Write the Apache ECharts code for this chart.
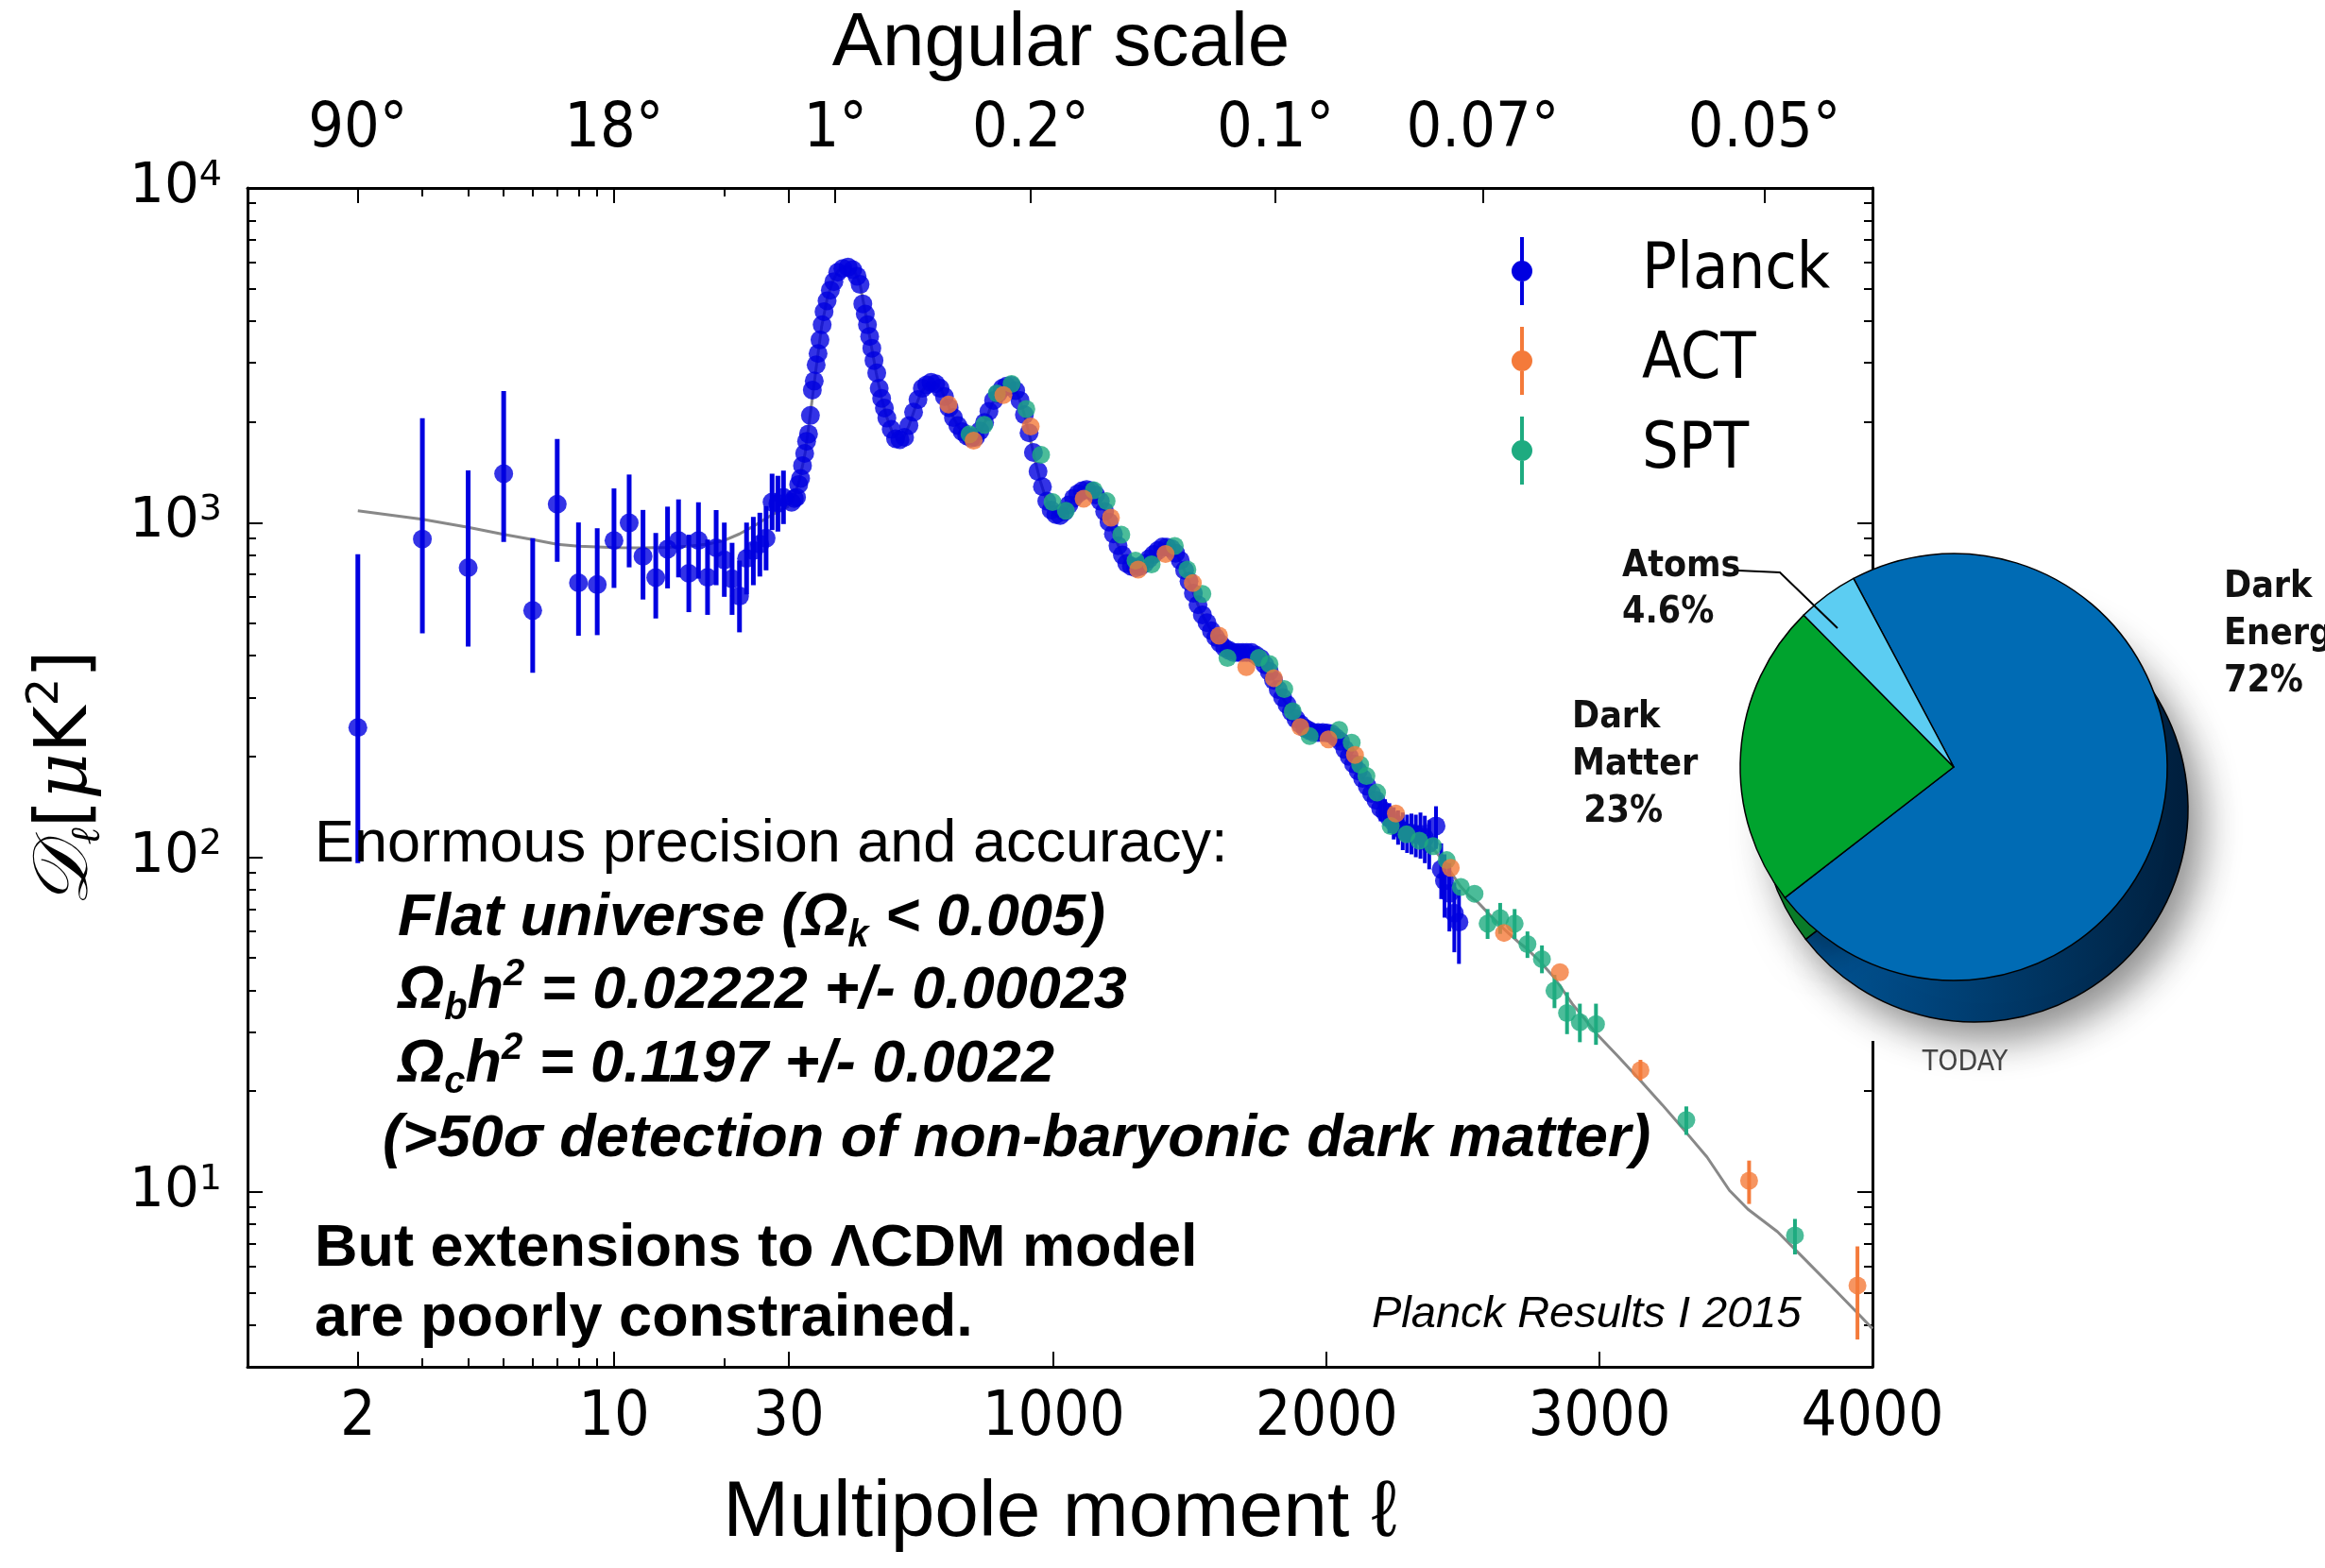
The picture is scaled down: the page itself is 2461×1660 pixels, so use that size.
<!DOCTYPE html>
<html><head><meta charset="utf-8">
<script src="https://cdn.jsdelivr.net/npm/echarts@6/dist/echarts.min.js"></script>
<style>html,body{margin:0;padding:0;background:#fff}#c{width:2461px;height:1660px}</style>
</head><body><div id="c"></div>
<script>
// ---------------- DATA ----------------
const planckLowEll = [2,3,4,5,6,7,8,9,10,11,12,13,14,15,16,17,18,19,20,21,22,23,24,25,26,27,28,29];
const planckLowD   = [244,893,733,1400,546,1135,661,653,884,998,793,685,833,884,705,884,686,841,773,679,603,781,825,861,898,1152,1141,1190];
const planckLowLo  = [96,467,426,875,356,764,459,461,638,735,589,517,636,686,540,680,530,650,600,530,470,610,650,690,720,950,940,990];
const planckLowHi  = [805,2052,1432,2473,898,1779,1001,962,1265,1392,1091,931,1116,1173,920,1150,890,1090,1000,870,770,1000,1040,1070,1120,1400,1380,1430];

const planckHighEll = [40,50,58,66,73,80,88,95,102,109,116,123,130,137,144,152,159,170,182,195,209,228,247,264,280,291,301,310,318,326,334,342,352,361,370,380,389,405,421,437,454,470,487,503,519,535,551,568,584,600,617,633,649,665,682,698,714,730,747,763,780,796,812,828,845,861,877,893,910,926,943,959,975,991,1008,1024,1040,1056,1073,1089,1105,1121,1138,1154,1171,1187,1203,1219,1236,1252,1268,1285,1301,1317,1334,1350,1366,1382,1399,1415,1431,1447,1464,1480,1496,1512,1529,1545,1562,1578,1594,1610,1627,1643,1660,1676,1692,1708,1725,1741,1758,1774,1790,1806,1823,1839,1855,1871,1888,1904,1921,1937,1953,1969,1986,2002,2018,2034,2051,2067,2083,2099,2116,2132,2149,2165,2181];
const planckHighD   = [1150,1180,1190,1300,1355,1480,1610,1750,1840,2090,2490,2650,2960,3200,3515,3900,4270,4600,4950,5250,5600,5750,5800,5700,5450,5150,4505,4200,3900,3600,3320,3050,2800,2520,2350,2200,2053,1900,1780,1770,1798,1950,2138,2330,2520,2580,2624,2600,2520,2380,2204,2060,1950,1870,1815,1790,1798,1880,1991,2150,2318,2430,2520,2560,2570,2480,2318,2100,1854,1620,1422,1280,1159,1090,1057,1050,1079,1130,1183,1220,1245,1255,1245,1210,1159,1080,1004,925,853,800,755,740,732,740,755,780,803,825,846,845,837,810,771,720,668,615,568,530,502,475,454,436,422,415,409,409,409,409,409,402,393,376,359,338,317,300,286,272,259,250,243,239,236,236,236,235,234,228,222,210,200,190,181,172,163,155,148];

const planckTailEll = [2198,2214,2230,2246,2262,2279,2295,2311,2327,2344,2360,2376,2401,2420,2432,2450,2468,2485];
const planckTailD   = [140,136,131,127,123,120,118,118,117,117,114,110,124,92,85,78,68,64];
const planckTailLo  = [128,124,118,113,109,105,103,102,100,99,96,92,106,75,66,60,52,48];
const planckTailHi  = [153,149,145,141,138,136,134,135,134,136,133,129,142,110,102,96,84,80];

const actEll = [615,707,816,916,1110,1210,1310,1410,1510,1606,1706,1807,1904,2007,2104,2254,2455,2650,2855,3150,3548,3945];
const actD   = [2255,1757,2405,1937,1178,1035,724,806,660,459,370,343,245,225,202,135,93,59.4,45.3,23.1,10.8,5.25];
const actBarEll = [3150,3548,3945];
const actBarLo  = [21.5,9.2,3.62];
const actBarHi  = [24.8,12.4,6.87];

const sptEll = [692,746,792,846,900,954,996,1045,1147,1194,1248,1300,1359,1444,1490,1545,1637,1752,1791,1845,1876,1938,2046,2092,2123,2146,2185,2235,2293,2340,2390,2440,2492,2542,2590,2636,2689,2736,2789,2835,2881,2928,2987,3318,3716];
const sptD   = [1836,1960,2432,2596,2184,1595,1152,1085,1250,1160,920,770,750,851,724,612,394,394,378,318,273,230,240,220,189,175,156,124,117,112,108,98,81.5,77.8,63.3,65.8,63.3,55,49.6,39.9,34.2,32.1,31.7,16.4,7.41];
const sptBarEll = [2590,2636,2689,2736,2789,2835,2881,2928,2987,3318,3716];
const sptBarLo  = [57,59,57,50,45,35.4,29.6,28,27.5,14.8,6.5];
const sptBarHi  = [70,73,70,60,54.5,44.5,39.5,36.5,36.5,18,8.3];

const theoryLowEll = [2,3,4,5,6,7,8,9,10,12,14,16,18,20,22,24,26,28,30];
const theoryLowD   = [1084,1023,968,922,890,861,850,846,842,840,843,850,862,884,925,975,1030,1080,1120];
const theoryHighEll = [30,50,70,90,110,130,150,170,190,210,230,250,270,290,310,330,350,370,390,410,430,450,470,490,510,530,550,570,590,610,630,650,670,690,710,730,750,770,790,810,830,850,870,890,910,930,950,970,990,1010,1030,1050,1070,1090,1110,1130,1150,1170,1190,1210,1230,1250,1270,1290,1310,1330,1350,1370,1390,1410,1430,1450,1470,1490,1510,1530,1550,1570,1590,1610,1630,1650,1670,1690,1710,1730,1750,1770,1790,1810,1830,1850,1870,1890,1910,1930,1950,1970,1990,2010,2030,2050,2070,2090,2110,2130,2150,2170,2190,2220,2250,2280,2310,2340,2370,2400,2430,2460,2490,2520,2557,2600,2650,2700,2730,2780,2835,2900,2950,2990,3070,3150,3230,3313,3394,3476,3544,3652,3746,3854,3960,4000];
const theoryHighD   = [1120,1200,1350,1620,2150,2900,3850,4650,5250,5650,5800,5800,5650,5200,4250,3450,2800,2350,2050,1850,1770,1790,1950,2170,2400,2560,2620,2600,2480,2280,2080,1940,1850,1800,1795,1870,2010,2220,2400,2510,2560,2560,2400,2140,1850,1560,1340,1190,1100,1055,1060,1110,1175,1225,1250,1250,1220,1160,1070,970,880,805,755,738,735,750,780,808,835,846,838,806,750,685,622,565,520,488,458,436,420,412,409,409,409,406,397,380,359,333,308,290,273,258,247,240,237,236,236,234,229,222,208,195,184,173,162,152,144,135,126,120,117,113,109,104,97,89,82,77,73,67,61,56,53.6,49,43.6,36.5,32.5,29.6,25.3,21.5,18.2,15.2,12.7,10.1,8.87,7.6,6.36,5.18,4.22,3.9];

const xTickLabelsLow = [2,10,30];
const xTickLabelsHigh = [1000,2000,3000,4000];
const angularEll = [2,10,200,916,1813,2572,3604];
const angularLabels = ['90°','18°','1°','0.2°','0.1°','0.07°','0.05°'];
const yTickValues = [10,100,1000,10000];
const yMinorValues = [4,5,6,7,8,9,20,30,40,50,60,70,80,90,200,300,400,500,600,700,800,900,2000,3000,4000,5000,6000,7000,8000,9000];

const pieNames  = ['Dark Energy','Dark Matter','Atoms'];
const pieValues = [72,23,4.6];

// ---------------- STYLE ----------------
const BLUE='#0000e0', ORANGE='#f47a3a', GREEN='#1eab80', GRAY='#888888';
const NARROW = "'DejaVu Sans Condensed','Liberation Sans Narrow',sans-serif";
const ARIAL = "'Liberation Sans',Arial,sans-serif";
const ICON = 'path://M10,0 L14,0 L14,26 L10,26 Z M10,46 L14,46 L14,72 L10,72 Z M1,36 A11,11 0 1,1 23,36 A11,11 0 1,1 1,36 Z';

const zip2 = (a,b)=>a.map((v,i)=>[v,b[i]]);
const zip3 = (a,b,c)=>a.map((v,i)=>[v,b[i],c[i]]);
function errBar(w){
  return function(params, api){
    const x = api.value(0);
    const a = api.coord([x, api.value(1)]);
    const b = api.coord([x, api.value(2)]);
    return {type:'line', shape:{x1:a[0],y1:a[1],x2:b[0],y2:b[1]}, style:{stroke:api.visual('color'), lineWidth:w}};
  };
}
function angFmt(v){
  for (let i=0;i<angularEll.length;i++){ if (Math.abs(angularEll[i]-v) < 0.01*angularEll[i]) return angularLabels[i]; }
  return '';
}
const lineSt = {show:true, onZero:false, lineStyle:{color:'#000', width:3}};
const tickSt = (vals,len)=>({show:true, inside:true, length:len, customValues:vals, lineStyle:{color:'#000', width:2}});
const noLine = {show:false, onZero:false};
const lblSt = (vals, margin, fmt)=>({show:true, customValues:vals, margin:margin, fontSize:66, lineHeight:70, fontFamily:NARROW, color:'#000', formatter:fmt});

const xAxes = [
  {type:'log', logBase:10, gridIndex:0, position:'bottom', min:1, max:30, axisLine:lineSt, axisTick:tickSt([2,10,30],16),
   axisLabel:lblSt(xTickLabelsLow, 20, v=>String(Math.round(v))), splitLine:{show:false}},
  {type:'log', logBase:10, gridIndex:0, position:'bottom', min:1, max:30, axisLine:noLine, axisTick:tickSt([3,4,5,6,7,8,9,20],9),
   axisLabel:{show:false}, splitLine:{show:false}},
  {type:'log', logBase:10, gridIndex:0, position:'top', min:1, max:30, axisLine:lineSt, axisTick:tickSt([2,10,30],16),
   axisLabel:lblSt([2,10], 26, angFmt), splitLine:{show:false}},
  {type:'log', logBase:10, gridIndex:0, position:'top', min:1, max:30, axisLine:noLine, axisTick:tickSt([3,4,5,6,7,8,9,20],9),
   axisLabel:{show:false}, splitLine:{show:false}},
  {type:'value', gridIndex:1, position:'bottom', min:30, max:4000, axisLine:lineSt, axisTick:tickSt([1000,2000,3000],16),
   axisLabel:lblSt(xTickLabelsHigh, 20, v=>String(Math.round(v))), splitLine:{show:false}},
  {type:'value', gridIndex:1, position:'top', min:30, max:4000, axisLine:lineSt, axisTick:tickSt(angularEll.slice(2),16),
   axisLabel:lblSt(angularEll.slice(2), 26, angFmt), splitLine:{show:false}}
];
const yRich = {b:{fontSize:58, fontFamily:'DejaVu Sans', lineHeight:64, color:'#000'}, s:{fontSize:38, fontFamily:'DejaVu Sans', lineHeight:44, verticalAlign:'top', color:'#000'}};
const yAxes = [
  {type:'log', logBase:10, gridIndex:0, position:'left', min:3, max:10000, axisLine:lineSt, axisTick:tickSt(yTickValues,16),
   axisLabel:{show:true, customValues:yTickValues, margin:27, rich:yRich, formatter:v=>'{b|10}{s|'+Math.round(Math.log10(v))+'}'}, splitLine:{show:false}},
  {type:'log', logBase:10, gridIndex:0, position:'left', min:3, max:10000, axisLine:noLine, axisTick:tickSt(yMinorValues,9), axisLabel:{show:false}, splitLine:{show:false}},
  {type:'log', logBase:10, gridIndex:1, position:'right', min:3, max:10000, axisLine:lineSt, axisTick:tickSt(yTickValues,16), axisLabel:{show:false}, splitLine:{show:false}},
  {type:'log', logBase:10, gridIndex:1, position:'right', min:3, max:10000, axisLine:noLine, axisTick:tickSt(yMinorValues,9), axisLabel:{show:false}, splitLine:{show:false}}
];

const series = [
  {name:'theory', type:'line', xAxisIndex:0, yAxisIndex:0, data:zip2(theoryLowEll,theoryLowD), symbol:'none', lineStyle:{color:GRAY,width:3}, z:1, silent:true},
  {name:'theory', type:'line', xAxisIndex:4, yAxisIndex:2, data:zip2(theoryHighEll,theoryHighD), symbol:'none', lineStyle:{color:GRAY,width:3}, z:1, silent:true},
  {name:'Planck', type:'custom', xAxisIndex:0, yAxisIndex:0, data:zip3(planckLowEll,planckLowLo,planckLowHi), renderItem:errBar(5), encode:{x:0,y:[1,2]}, itemStyle:{color:BLUE}, z:2, silent:true},
  {name:'Planck', type:'scatter', xAxisIndex:0, yAxisIndex:0, data:zip2(planckLowEll,planckLowD), symbolSize:20, itemStyle:{color:BLUE}, z:2, silent:true},
  {name:'Planck', type:'custom', xAxisIndex:4, yAxisIndex:2, data:zip3(planckTailEll,planckTailLo,planckTailHi), renderItem:errBar(4), encode:{x:0,y:[1,2]}, itemStyle:{color:BLUE}, z:2, silent:true},
  {name:'Planck', type:'scatter', xAxisIndex:4, yAxisIndex:2, data:zip2(planckHighEll,planckHighD).concat(zip2(planckTailEll,planckTailD)), symbolSize:20, itemStyle:{color:BLUE}, z:2, silent:true},
  {name:'SPT', type:'custom', xAxisIndex:4, yAxisIndex:2, data:zip3(sptBarEll,sptBarLo,sptBarHi), renderItem:errBar(4), encode:{x:0,y:[1,2]}, itemStyle:{color:GREEN}, z:3, silent:true},
  {name:'SPT', type:'scatter', xAxisIndex:4, yAxisIndex:2, data:zip2(sptEll,sptD), symbolSize:19, itemStyle:{color:GREEN}, z:3, silent:true},
  {name:'ACT', type:'custom', xAxisIndex:4, yAxisIndex:2, data:zip3(actBarEll,actBarLo,actBarHi), renderItem:errBar(4), encode:{x:0,y:[1,2]}, itemStyle:{color:ORANGE}, z:4, silent:true},
  {name:'ACT', type:'scatter', xAxisIndex:4, yAxisIndex:2, data:zip2(actEll,actD), symbolSize:19, itemStyle:{color:ORANGE}, z:4, silent:true},
  {name:'pieSide', type:'pie', center:[2090,856], radius:226, startAngle:118, clockwise:true, silent:true, z:8,
   label:{show:false}, labelLine:{show:false},
   itemStyle:{borderColor:'#000', borderWidth:1.5, shadowBlur:40, shadowColor:'rgba(0,0,0,0.45)', shadowOffsetX:14, shadowOffsetY:18},
   data:pieNames.map((n,i)=>({name:n, value:pieValues[i], itemStyle:{color:[{type:'linear',x:0,y:0,x2:1,y2:0,colorStops:[{offset:0,color:'#005699'},{offset:1,color:'#001f3d'}]},'#0b7d2a','#3a9fc4'][i]}}))},
  {name:'pieFace', type:'pie', center:[2068,812], radius:226, startAngle:118, clockwise:true, silent:true, z:9,
   label:{show:false}, labelLine:{show:false},
   itemStyle:{borderColor:'#000', borderWidth:1.5},
   data:pieNames.map((n,i)=>({name:n, value:pieValues[i], itemStyle:{color:['#006bb4','#00a32e','#5ccdf2'][i]}}))}
];

const tStyle = (extra)=>Object.assign({fill:'#000', verticalAlign:'middle', textVerticalAlign:'middle', align:'left', textAlign:'left'}, extra);
const bi = {fontSize:63, fontWeight:'bold', fontStyle:'italic', fontFamily:ARIAL, lineHeight:76, color:'#000'};
const biSub = {fontSize:40, fontWeight:'bold', fontStyle:'italic', fontFamily:ARIAL, lineHeight:40, verticalAlign:'bottom', color:'#000'};
const biSup = {fontSize:40, fontWeight:'bold', fontStyle:'italic', fontFamily:ARIAL, lineHeight:58, verticalAlign:'top', color:'#000'};
const pieFont = 'bold 39px ' + NARROW;

const graphics = [
  {type:'rect', shape:{x:1810, y:628, width:651, height:474}, style:{fill:'#fff'}, z:5, silent:true},
  {type:'text', x:1123, y:47, z:12, style:tStyle({text:'Angular scale', font:'80px '+ARIAL, align:'center', textAlign:'center'})},
  {type:'text', x:1122, y:1603, z:12, style:tStyle({text:'Multipole moment ℓ', font:'84px '+ARIAL, align:'center', textAlign:'center'})},
  {type:'text', x:71, y:824, rotation:Math.PI/2, z:12, style:tStyle({align:'center', textAlign:'center',
     text:'{d|𝒟}{l|ℓ}{t|[}{m|μ}{t|K}{p|2}{t|]}',
     rich:{d:{fontSize:82, fontFamily:"'DejaVu Serif',serif", fontStyle:'italic', lineHeight:90},
           l:{fontSize:44, fontFamily:"'DejaVu Serif',serif", fontStyle:'italic', lineHeight:44, verticalAlign:'bottom'},
           t:{fontSize:76, fontFamily:"'DejaVu Sans',sans-serif", lineHeight:90},
           m:{fontSize:76, fontFamily:"'DejaVu Serif',serif", fontStyle:'italic', lineHeight:90},
           p:{fontSize:46, fontFamily:"'DejaVu Sans',sans-serif", lineHeight:60, verticalAlign:'top'}}})},
  {type:'text', x:333, y:895, z:12, style:tStyle({text:'Enormous precision and accuracy:', font:'63px '+ARIAL})},
  {type:'text', x:421, y:973, z:12, style:tStyle({text:'{t|Flat universe (Ω}{s|k}{t| < 0.005)}', rich:{t:bi, s:biSub}})},
  {type:'text', x:421, y:1050, z:12, style:tStyle({text:'{t|Ω}{s|b}{t|h}{p|2}{t| = 0.02222 +/- 0.00023}', rich:{t:bi, s:biSub, p:biSup}})},
  {type:'text', x:421, y:1128, z:12, style:tStyle({text:'{t|Ω}{s|c}{t|h}{p|2}{t| = 0.1197 +/- 0.0022}', rich:{t:bi, s:biSub, p:biSup}})},
  {type:'text', x:405, y:1207, z:12, style:tStyle({text:'(>50σ detection of non-baryonic dark matter)', font:'italic bold 63px '+ARIAL})},
  {type:'text', x:333, y:1323, z:12, style:tStyle({text:'But extensions to ΛCDM model', font:'bold 63px '+ARIAL})},
  {type:'text', x:333, y:1397, z:12, style:tStyle({text:'are poorly constrained.', font:'bold 63px '+ARIAL})},
  {type:'text', x:1452, y:1392, z:12, style:tStyle({text:'Planck Results I 2015', font:'italic 47px '+ARIAL})},
  {type:'text', x:1717, y:624, z:12, style:tStyle({text:'Atoms\n4.6%', font:pieFont, lineHeight:49, fill:'#111'})},
  {type:'text', x:1664, y:810, z:12, style:tStyle({text:'Dark\nMatter\n 23%', font:pieFont, lineHeight:50, fill:'#111'})},
  {type:'text', x:2354, y:672, z:12, style:tStyle({text:'Dark\nEnergy\n72%', font:pieFont, lineHeight:50, fill:'#111'})},
  {type:'text', x:2080, y:1125, z:12, style:tStyle({text:'TODAY', font:'30px '+NARROW, fill:'#444', align:'center', textAlign:'center'})},
  {type:'polyline', shape:{points:[[1840,604],[1884,606],[1945,665]]}, style:{stroke:'#000', lineWidth:2, fill:null}, z:12, silent:true}
];

const chart = echarts.init(document.getElementById('c'), null, {renderer:'canvas'});
chart.setOption({
  animation:false,
  backgroundColor:'#fff',
  grid:[{left:262, top:199, width:573, height:1248},{left:835, top:199, width:1147, height:1248}],
  xAxis:xAxes,
  yAxis:yAxes,
  legend:{orient:'vertical', left:1595, top:246, itemWidth:244, itemHeight:72, itemGap:23, selectedMode:false, padding:5,
          textStyle:{fontSize:68, lineHeight:72, fontFamily:NARROW, color:'#000'},
          data:[{name:'Planck',icon:ICON},{name:'ACT',icon:ICON},{name:'SPT',icon:ICON}], z:6},
  series:series,
  graphic:graphics
});
</script></body></html>
